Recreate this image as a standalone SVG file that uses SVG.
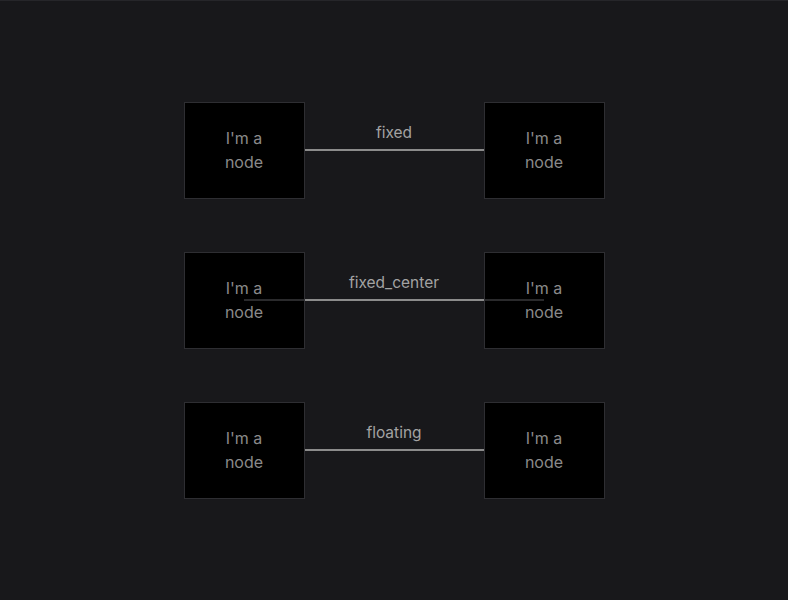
<svg xmlns="http://www.w3.org/2000/svg" width="788" height="600" viewBox="0 0 788 600">
<style>
.node rect{fill:#000;stroke:#2e2e32;stroke-width:1}
.node text{font-family:Inter,"Noto Sans",sans-serif;font-size:16px;fill:#8a8a8a;text-anchor:middle}
.edge{stroke:#8c8c8c;stroke-width:2;fill:none}
.inner{stroke:#2a2a2c;stroke-width:2;fill:none}
.lbl{font-family:Inter,"Noto Sans",sans-serif;font-size:15.5px;fill:#a3a3a3;text-anchor:middle}
</style>
<rect width="788" height="600" fill="#18181b"/>
<line x1="0" y1="0.5" x2="788" y2="0.5" stroke="#26262a"/>
<g id="edges">
<line class="edge" x1="305" y1="150" x2="484" y2="150"/>
<line class="edge" x1="305" y1="300" x2="484" y2="300"/>
<line class="edge" x1="305" y1="450" x2="484" y2="450"/>
</g>
<g id="n1" class="node"><rect x="184.5" y="102.5" width="120" height="96"/><text x="244" y="144">I'm a</text><text x="244" y="168">node</text></g>
<g id="n2" class="node"><rect x="484.5" y="102.5" width="120" height="96"/><text x="544" y="144">I'm a</text><text x="544" y="168">node</text></g>
<g id="n3" class="node"><rect x="184.5" y="252.5" width="120" height="96"/><text x="244" y="294">I'm a</text><text x="244" y="318">node</text></g>
<g id="n4" class="node"><rect x="484.5" y="252.5" width="120" height="96"/><text x="544" y="294">I'm a</text><text x="544" y="318">node</text></g>
<g id="n5" class="node"><rect x="184.5" y="402.5" width="120" height="96"/><text x="244" y="444">I'm a</text><text x="244" y="468">node</text></g>
<g id="n6" class="node"><rect x="484.5" y="402.5" width="120" height="96"/><text x="544" y="444">I'm a</text><text x="544" y="468">node</text></g>
<g id="edge-overlay">
<line class="inner" x1="244" y1="300" x2="304" y2="300"/>
<line class="inner" x1="485" y1="300" x2="544" y2="300"/>
</g>
<g id="labels">
<text class="lbl" x="394" y="137.5">fixed</text>
<text class="lbl" x="394" y="287.5">fixed_center</text>
<text class="lbl" x="394" y="437.5">floating</text>
</g>
</svg>
